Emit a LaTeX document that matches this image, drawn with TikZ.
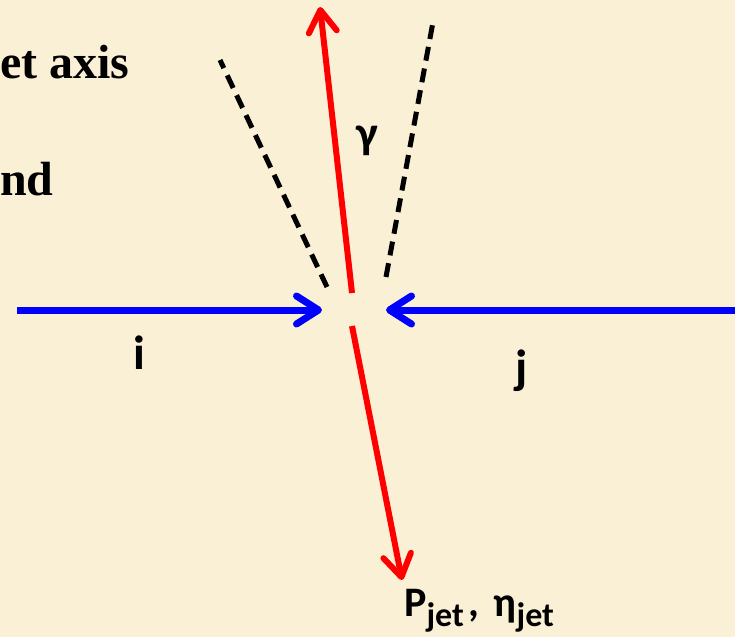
\documentclass[tikz,border=0pt]{standalone}
\usepackage{fontspec}
\setmainfont{Liberation Serif}
\newfontfamily\calib{Carlito}
\usepackage{xcolor}
\usetikzlibrary{arrows.meta,positioning}
\definecolor{paper}{RGB}{250,240,214}
\definecolor{beam}{RGB}{0,0,255}
\definecolor{phot}{RGB}{255,0,0}
\newcommand{\jetsub}{\raisebox{-10pt}{\fontsize{34}{36}\selectfont jet}}

\begin{document}
\begin{tikzpicture}[
  x=1pt,y=-1pt,
  tip/.style={-{Straight Barb[length=22pt,width=28pt,line cap=round,line join=round]}},
  b/.style={tip,draw=beam,line width=7pt},
  r/.style={tip,draw=phot,line width=6pt},
  cone/.style={draw=black,line width=5pt,dash pattern=on 14pt off 8pt},
  lbl/.style={font=\calib\bfseries,inner sep=0pt,anchor=base},
  txt/.style={font=\bfseries\fontsize{48}{56}\selectfont,inner sep=0pt,anchor=base west}]

\fill[paper] (0,0) rectangle (735,637);
\useasboundingbox (0,0) rectangle (735,637);

% text at the left
\node[txt] (ax) at (0,78) {et axis};
\node[txt] (nd) at (0,195) {nd};

% end points
\coordinate (bi) at (17,310);
\coordinate (ti) at (322,310);
\coordinate (bj) at (735,310);
\coordinate (tj) at (386,310);
\coordinate (gb) at (352,293);
\coordinate (gt) at (320,7);
\coordinate (jb) at (352,326);
\coordinate (jt) at (402,580);
\coordinate (c1b) at (327,287);
\coordinate (c1t) at (220,60);
\coordinate (c2b) at (386,277);
\coordinate (c2t) at (433,22);

% beams, photon and jet
\draw[b] (bi) -- (ti);
\draw[b] (bj) -- (tj);
\draw[r] (gb) -- (gt);
\draw[r] (jb) -- (jt);
\draw[cone] (c1b) -- (c1t);
\draw[cone] (c2b) -- (c2t);

% labels
\node[lbl,font=\calib\bfseries\fontsize{46}{50}\selectfont] (g) at (367,148) {γ};
\node[lbl,font=\calib\bfseries\fontsize{48}{50}\selectfont] (i) at (139,369) {i};
\node[lbl,font=\calib\bfseries\fontsize{48}{50}\selectfont] (j) at (522,383) {j};
\node[lbl,anchor=base west,font=\calib\bfseries\fontsize{42}{50}\selectfont] (p) at (404,616)
  {P\jetsub\hspace{5pt},\hspace{14pt}η\jetsub};
\end{tikzpicture}
\end{document}
